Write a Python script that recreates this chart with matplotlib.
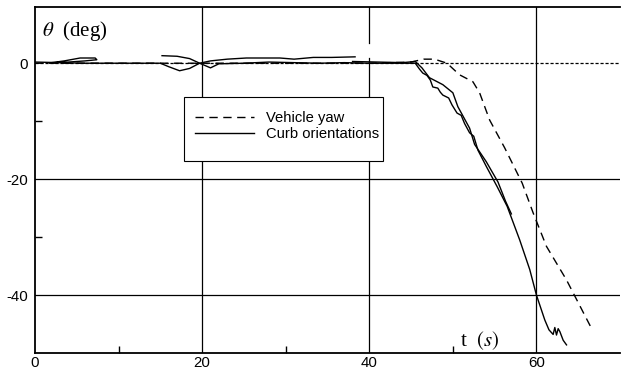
import matplotlib.pyplot as plt
from matplotlib.patches import Rectangle

plt.rcParams['mathtext.fontset'] = 'stix'
plt.rcParams['axes.unicode_minus'] = False

# vehicle yaw (dashed)
yaw_t = [0, 10, 20, 30, 40, 45, 46.5, 47.8, 49.3, 50.8, 52.4, 53.2, 54.4, 56.2,
         58.3, 59.6, 61.2, 63.6, 66.5]
yaw_v = [0, 0, 0, 0, 0, 0.2, 0.7, 0.7, 0, -2.0, -3.2, -5.1, -9.8, -14.6,
         -20.7, -25.8, -31.6, -37.4, -45.5]

# curb orientation, main track (stair stepped on the way down)
curb1_t = [0, 3, 6, 9, 12, 15, 16, 17.3, 18.5, 19.7, 21, 22, 25, 28, 31, 34, 37,
           40, 43, 45.5, 46.0, 46.4, 46.9, 47.3, 47.6, 48.2, 48.5, 48.8, 49.5,
           49.9, 50.5, 51.0, 51.4, 52.0, 52.5, 53.0, 54.0, 55.3, 56.5, 58.0,
           59.2, 60.0, 61.0, 61.5, 62.0, 62.2, 62.4, 62.6, 62.8, 63.2, 63.6]
curb1_v = [0.2, 0.1, 0, 0, 0, 0, -0.6, -1.3, -0.9, 0, -0.8, -0.1, 0, 0.2, 0.1,
           0, 0.1, 0, 0, 0, -1.0, -1.7, -2.1, -2.9, -4.1, -4.3, -5.0, -5.5,
           -6.0, -7.2, -8.6, -9.0, -10.4, -12.0, -12.6, -15.0, -17.8, -21.3,
           -24.7, -30.5, -35.6, -40.0, -44.3, -46.0, -46.8, -45.6, -46.9,
           -45.8, -46.3, -47.8, -48.6]

# curb orientation, short segments near zero
curb2_t = [2, 3.5, 5.4, 7.2, 7.4, 6.0, 4.0, 2.5]
curb2_v = [0.1, 0.4, 0.9, 0.9, 0.6, 0.4, 0.2, 0.1]

curb3_t = [15.2, 17, 18.5, 19.7, 21, 23, 25.3, 27, 29.3, 31, 33.3, 35.5, 38.3]
curb3_v = [1.3, 1.2, 0.8, 0, 0.4, 0.7, 0.9, 0.9, 0.9, 0.7, 1.0, 1.0, 1.1]

# curb orientation, second track on the way down
curb4_t = [38, 41, 44, 45.5, 46.3, 47.2, 48.8, 50.0, 50.6, 52.0, 52.6, 54.0,
           55.4, 56.3, 57.0]
curb4_v = [0.3, 0.2, 0.1, 0.3, -0.8, -2.5, -3.7, -5.1, -7.5, -11.2, -14.0,
           -17.0, -20.5, -23.8, -26.0]

xticks = [0, 20, 40, 60]
yticks = [0, -20, -40]

fig = plt.figure(figsize=(6.21, 3.72), dpi=100)
ax = fig.add_axes([35 / 621, 19 / 372, 585 / 621, 346 / 372])

ax.set_xlim(0, 70)
ax.set_ylim(-50, 9.7)

# grid
for x in [20, 60]:
    ax.axvline(x, color='black', lw=0.9, zorder=1)
ax.axvline(40, ymin=0, ymax=0.853, color='black', lw=0.9, zorder=1)
ax.axvline(40, ymin=0.896, ymax=1, color='black', lw=0.9, zorder=1)
for y in [-20, -40]:
    ax.axhline(y, color='black', lw=0.9, zorder=1)
ax.axhline(0, color='black', lw=0.9, ls=(0, (2.5, 1.5)), zorder=1)

ax.plot(yaw_t, yaw_v, color='black', lw=1.0, ls=(0, (6, 4)),
        label='Vehicle yaw', zorder=2)
ax.plot(curb1_t, curb1_v, color='black', lw=1.0, label='Curb orientations',
        zorder=2)
ax.plot(curb2_t, curb2_v, color='black', lw=1.0, zorder=2)
ax.plot(curb3_t, curb3_v, color='black', lw=1.0, zorder=2)
ax.plot(curb4_t, curb4_v, color='black', lw=1.0, zorder=2)

# legend box
ax.add_patch(Rectangle((0.2547, 0.555), 0.340, 0.185, transform=ax.transAxes,
                       facecolor='white', edgecolor='black', lw=0.8, zorder=4))
leg = ax.legend(loc='upper left', bbox_to_anchor=(0.2735, 0.70), frameon=False,
                borderpad=0, borderaxespad=0, handlelength=4.0,
                handletextpad=0.8, labelspacing=0.15,
                prop={'family': 'Liberation Sans', 'size': 10.6})
leg.set_zorder(5)

ax.set_xticks(xticks)
ax.set_xticks([10, 30, 50], minor=True)
ax.set_yticks(yticks)
ax.set_yticks([-10, -30], minor=True)
ax.tick_params(which='major', length=0, pad=5, labelsize=10.8)
ax.tick_params(axis='x', which='major', pad=2.5)
ax.tick_params(which='minor', length=5, width=1, direction='in')
for lab in ax.get_xticklabels() + ax.get_yticklabels():
    lab.set_family('Liberation Sans')

for side in ['left', 'bottom', 'top']:
    ax.spines[side].set_linewidth(1.3)
ax.spines['right'].set_visible(False)

ax.text(0.8, 5.6, r'$\theta$  (deg)', fontsize=15, family='Liberation Serif',
        va='center', ha='left')
ax.text(50.8, -47.9, r't  $(s)$', fontsize=15, family='Liberation Serif',
        va='center', ha='left')

fig.savefig('out.png', dpi=100)
